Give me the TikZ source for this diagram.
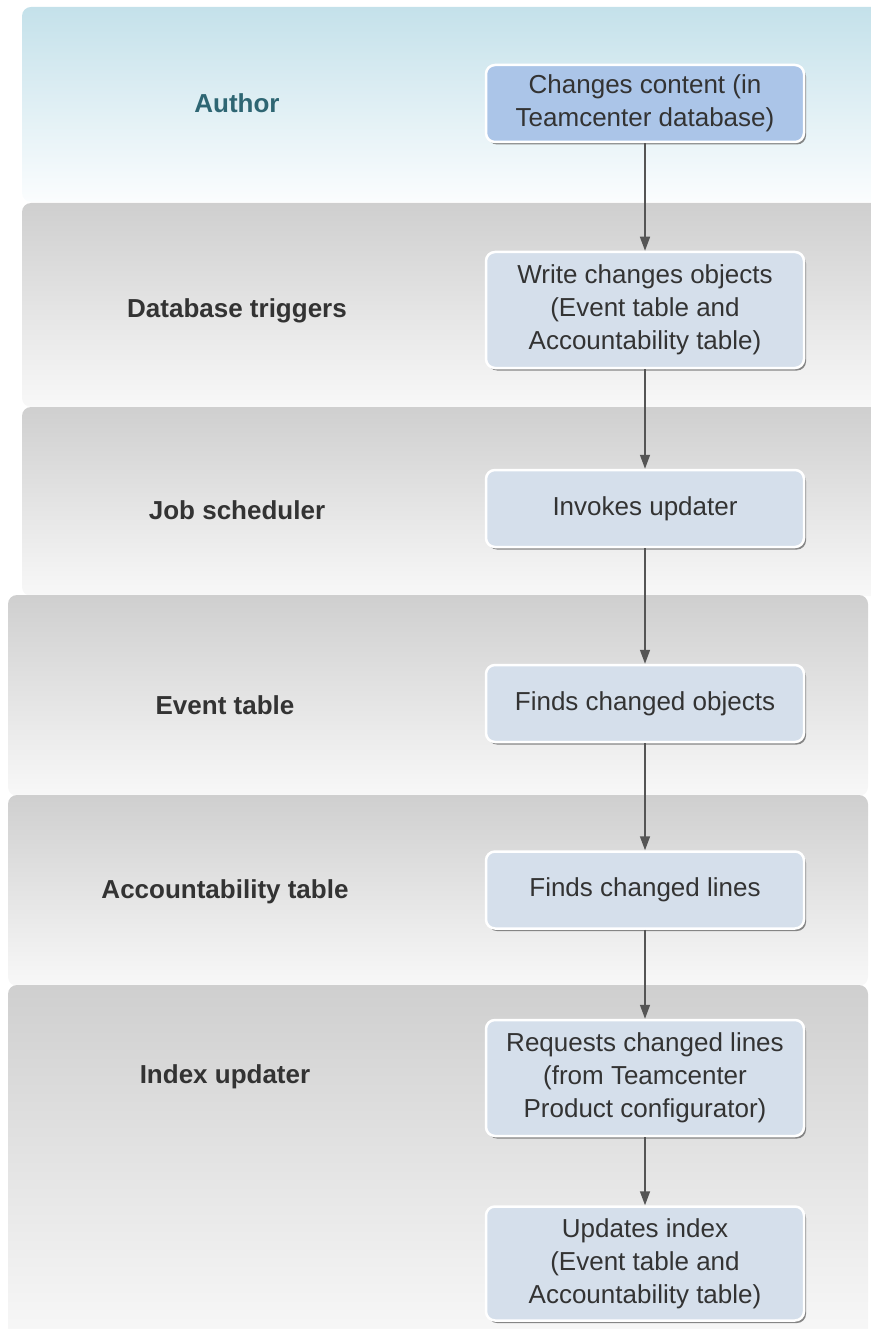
\documentclass[tikz,border=0pt]{standalone}
\usepackage{fontspec}
\setmainfont{Liberation Sans}
\usetikzlibrary{arrows.meta,shadows}
\definecolor{laneTop}{HTML}{CFCFCF}
\definecolor{laneBot}{HTML}{F8F8F8}
\definecolor{authTop}{HTML}{C4E1EA}
\definecolor{authBot}{HTML}{FBFDFE}
\definecolor{stepFill}{HTML}{D5DFEB}
\definecolor{startFill}{HTML}{ABC5E8}
\definecolor{txt}{HTML}{333333}
\definecolor{authTxt}{HTML}{2E6673}
\definecolor{arrowGray}{HTML}{555555}
\tikzset{
  lane/.style={top color=laneTop, bottom color=laneBot, rounded corners=9pt},
  lanelabel/.style={font=\fontsize{26}{33}\selectfont\bfseries, text=txt},
  stepbox/.style={draw=white, line width=2.5pt, rounded corners=9pt, fill=stepFill,
    minimum width=318pt, minimum height=77pt, align=center, inner sep=3pt,
    font=\fontsize{26}{33}\selectfont, text=txt,
    drop shadow={shadow xshift=2pt, shadow yshift=-2.5pt, fill=black!55, opacity=0.85}},
  arr/.style={draw=arrowGray, line width=1.5pt, -{Triangle[length=14pt,width=10pt]}, arrowGray},
}
\begin{document}
\begin{tikzpicture}[x=1pt,y=-1pt]
\useasboundingbox (0,0) rectangle (870,1329);
% swimlanes
\shade[top color=authTop, bottom color=authBot, rounded corners=9pt] (22,7) rectangle (884,202);
\shade[lane] (22,203) rectangle (884,407);
\shade[lane] (22,407) rectangle (884,596);
\shade[lane] (8,595) rectangle (868,796);
\shade[lane] (8,795) rectangle (868,986);
\shade[lane] (8,985) rectangle (868,1340);
% lane titles
\node[lanelabel, text=authTxt] (lAuthor) at (237,103) {Author};
\node[lanelabel] (lTrig) at (237,311) {Database triggers};
\node[lanelabel] (lJob) at (237,510) {Job scheduler};
\node[lanelabel] (lEvent) at (225,705) {Event table};
\node[lanelabel] (lAcc) at (225,892) {Accountability table};
\node[lanelabel] (lIdx) at (225,1077) {Index updater};
% process steps
\node[stepbox, fill=startFill] (b1) at (645,103.5) {Changes content (in\\Teamcenter database)};
\node[stepbox, minimum height=116pt] (b2) at (645,310) {Write changes objects\\(Event table and\\Accountability table)};
\node[stepbox] (b3) at (645,508.5) {Invokes updater};
\node[stepbox] (b4) at (645,703.5) {Finds changed objects};
\node[stepbox] (b5) at (645,890) {Finds changed lines};
\node[stepbox, minimum height=116pt] (b6) at (645,1078) {Requests changed lines\\(from Teamcenter\\Product configurator)};
\node[stepbox, minimum height=114pt] (b7) at (645,1263.5) {Updates index\\(Event table and\\Accountability table)};
% flow
\draw[arr] (b1) -- (b2);
\draw[arr] (b2) -- (b3);
\draw[arr] (b3) -- (b4);
\draw[arr] (b4) -- (b5);
\draw[arr] (b5) -- (b6);
\draw[arr] (b6) -- (b7);
\end{tikzpicture}
\end{document}
